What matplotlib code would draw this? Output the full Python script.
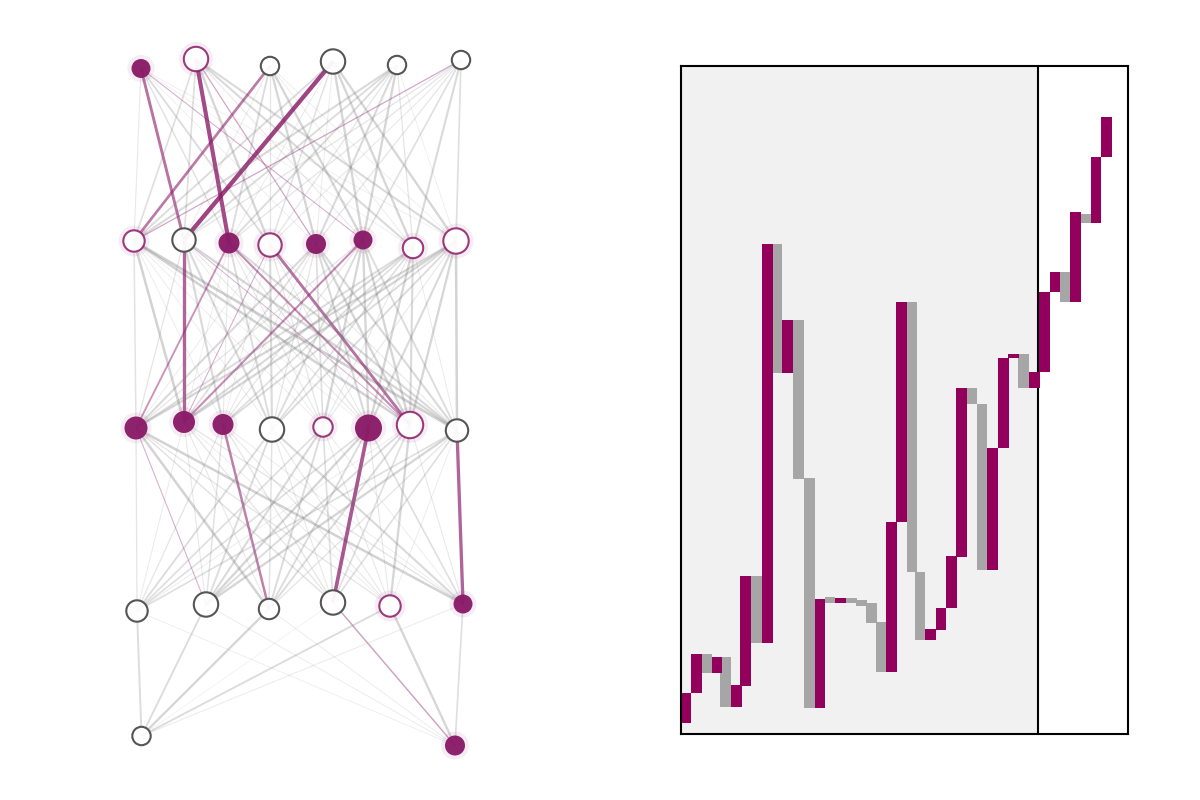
import matplotlib
matplotlib.use('Agg')
import matplotlib.pyplot as plt
from matplotlib.patches import Circle

ACCENT = '#8a1a68'
BAR_ACCENT = '#93005c'
BAR_GREY = '#a6a6a6'
EDGE_GREY = '#7a7a7a'
RING_GREY = '#555555'

layer_x = [
    [141, 196, 270, 333, 397, 461],
    [134, 184, 229, 270, 316, 363, 413, 456],
    [136, 184, 223, 272, 323, 368.5, 410, 457],
    [137, 206, 269, 333, 390, 463],
    [141.5, 455],
]
layer_y = [
    [68.5, 59, 66, 61.5, 65, 60],
    [241, 240, 243, 245, 244, 240, 248, 241],
    [428, 422, 424.5, 429.5, 427, 428, 425, 430.5],
    [611, 604.5, 609, 602.5, 606, 604],
    [736, 745.5],
]
layer_r = [
    [9.5, 13, 10, 13, 10, 10],
    [11.5, 12.5, 10.5, 12.5, 10, 9.5, 11, 13.5],
    [11.5, 11, 10.5, 13, 10.5, 13.5, 14, 12],
    [11.5, 13, 11, 13, 11.5, 9.5],
    [10, 10],
]
# 'a' accent ring, 'f' accent filled, 'g' grey ring
layer_kind = [
    ['f', 'a', 'g', 'g', 'g', 'g'],
    ['a', 'g', 'f', 'a', 'f', 'f', 'a', 'a'],
    ['f', 'f', 'f', 'g', 'a', 'f', 'a', 'g'],
    ['g', 'g', 'g', 'g', 'a', 'f'],
    ['g', 'f'],
]

# edge weights between layers, negative means accent coloured
weights_0 = [
    [.15, -.6, .25, .35, .08, -.15, .07, .07],
    [.3, .3, -.9, .45, -.2, .15, .4, .4],
    [-.55, .12, .35, .2, .45, .45, .1, .08],
    [.35, -.95, .12, .25, .12, .45, .45, .45],
    [.4, .35, .35, .2, .4, .45, .2, .08],
    [-.2, .2, .2, .15, .2, .3, .4, .3],
]
weights_1 = [
    [.25, .5, .1, .1, .1, .07, .5, .55],
    [.2, -.7, .4, .4, .1, .15, -.12, .45],
    [-.35, .1, .15, .35, .15, .2, -.4, .4],
    [.1, -.15, .1, .4, .2, .15, -.6, .15],
    [.4, .3, .15, .2, .3, .4, .45, .4],
    [.2, -.4, .2, .35, .45, .45, .45, .35],
    [.35, .4, .3, .3, .15, .45, .4, .12],
    [.45, .45, .35, .35, .15, .4, .45, .5],
]
weights_2 = [
    [.2, -.15, .5, .25, .2, .5],
    [.12, .15, .15, .2, .1, .2],
    [.2, .25, -.5, .2, .15, .1],
    [.35, .35, .25, .15, .15, .4],
    [.3, .4, .35, .3, .15, .1],
    [.3, .45, .35, -.8, .15, .3],
    [.1, .35, .35, .3, .45, .15],
    [.3, .45, .2, .3, .1, -.7],
]
weights_3 = [
    [.35, .08],
    [.35, .1],
    [.45, .1],
    [.05, -.25],
    [.35, .45],
    [.12, .3],
]
all_weights = [weights_0, weights_1, weights_2, weights_3]

# waterfall bars on the right, heights in pixels above the panel floor
bar_left = [0, 10, 21, 31, 39, 50, 59, 70, 81, 92, 101, 112, 123, 134, 144, 154, 165, 175, 185, 195, 205,
            215, 226, 234, 244, 255, 265, 275, 286, 296, 306, 317, 327, 337, 348, 358, 369, 379, 389, 399, 410, 420]
bar_right = [10, 21, 31, 41, 50, 61, 70, 81, 92, 101, 112, 123, 134, 144, 154, 165, 176, 186, 196, 206, 216,
             226, 236, 244, 255, 265, 276, 286, 296, 306, 317, 328, 338, 348, 359, 369, 379, 389, 400, 410, 420, 431]
bar_low = [11.5, 40.7, 61, 61, 27.3, 27.3, 48.5, 91, 91, 361, 361, 255, 25.7, 25.7, 131.5, 131.5, 131.5, 128.3,
           110.7, 61.7, 61.7, 211.7, 161.7, 93.7, 94, 104, 126, 177.5, 330, 164.5, 164.5, 286, 375.7, 345.7, 346,
           362.3, 441.7, 432, 432, 510.7, 510.7, 576.7]
bar_high = [41.5, 80.5, 80.5, 77.5, 77.5, 49.5, 158.5, 158.5, 490.5, 490.5, 414.5, 414.5, 255.5, 135.5, 137, 136.5,
            136.5, 134, 130.7, 111.7, 211.7, 431.5, 431.5, 161.7, 105, 126, 178.5, 346.5, 346.5, 330.5, 286, 375.7,
            380.5, 379.7, 362.3, 442.3, 461.7, 461.7, 521.7, 520.3, 576.7, 616.7]
bar_is_accent = [1, 1, 0, 1, 0, 1, 1, 0, 1, 0, 1, 0, 0, 1, 0, 1, 0, 0, 0, 0, 1, 1, 0, 0, 1, 1, 1, 1, 0, 0, 1, 1,
                 1, 0, 1, 1, 1, 0, 1, 0, 1, 1]
split_at = 357


def draw_edges(ax) -> None:
    for i, matrix in enumerate(all_weights):
        for j, row in enumerate(matrix):
            for k, w in enumerate(row):
                color = ACCENT if w < 0 else EDGE_GREY
                size = abs(w)
                alpha = 0.1 + 0.45 * size if w > 0 else 0.25 + 0.6 * size
                xs = [layer_x[i][j], layer_x[i + 1][k]]
                ys = [layer_y[i][j], layer_y[i + 1][k]]
                ax.plot(xs, ys, color=color, lw=0.35 + 2.9 * size, alpha=alpha, zorder=1,
                        solid_capstyle='butt')


def draw_nodes(ax) -> None:
    for xs, ys, rs, kinds in zip(layer_x, layer_y, layer_r, layer_kind):
        for x, y, r, kind in zip(xs, ys, rs, kinds):
            if kind != 'g':
                ax.add_patch(Circle((x, y), r + 4, fc=ACCENT, ec='none', alpha=0.08, zorder=2))
            if kind == 'f':
                ax.add_patch(Circle((x, y), r, fc=ACCENT, ec='none', alpha=0.96, zorder=3))
            else:
                ring = ACCENT if kind == 'a' else RING_GREY
                ax.add_patch(Circle((x, y), r - 0.8, fc='white', ec='none', alpha=0.95, zorder=3))
                ax.add_patch(Circle((x, y), r - 0.8, fc='none', ec=ring, lw=1.5, alpha=0.85 if kind == 'a' else 1,
                                    zorder=4))


def draw_bars(ax) -> None:
    ax.axvspan(0, split_at, color='#f1f1f1', lw=0, zorder=0)
    ax.axvline(split_at, color='black', lw=1.5, zorder=1)
    for left, right, low, high, accent in zip(bar_left, bar_right, bar_low, bar_high, bar_is_accent):
        ax.bar(left, high - low, right - left, bottom=low, align='edge', lw=0, zorder=2 + accent,
               color=BAR_ACCENT if accent else BAR_GREY)
    ax.set_xlim(0, 447)
    ax.set_ylim(0, 668)
    ax.set_xticks([])
    ax.set_yticks([])
    for spine in ax.spines.values():
        spine.set_linewidth(1.5)
        spine.set_zorder(5)


def main():
    fig = plt.figure(figsize=(12, 8), dpi=100)

    net_ax = fig.add_axes([0, 0, 0.5, 1])
    net_ax.set_xlim(0, 600)
    net_ax.set_ylim(800, 0)
    net_ax.axis('off')
    draw_edges(net_ax)
    draw_nodes(net_ax)

    bar_ax = fig.add_axes([681 / 1200, 1 - 734 / 800, 447 / 1200, 668 / 800])
    draw_bars(bar_ax)

    fig.savefig('out.png', dpi=100)


if __name__ == '__main__':
    main()
